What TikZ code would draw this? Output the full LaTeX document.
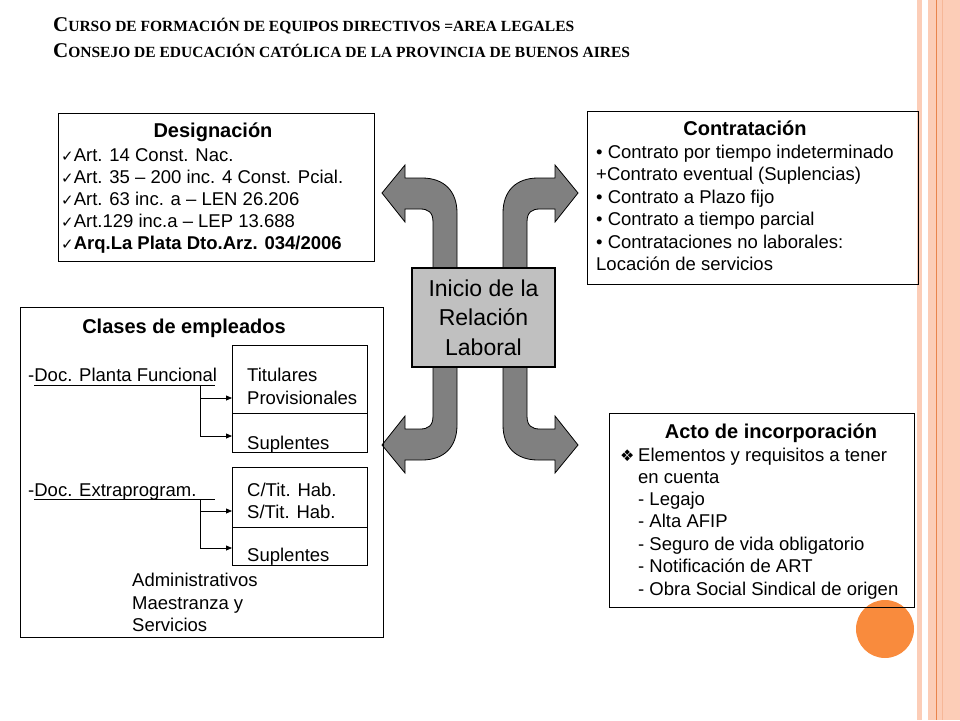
\documentclass[tikz,border=0pt]{standalone}
\usepackage{fontspec}
\setmainfont{Liberation Sans}
\newfontfamily\titlefont{Liberation Serif}
\newfontfamily\symfont{DejaVu Sans}
\usetikzlibrary{arrows.meta, positioning}
\definecolor{arrowgray}{HTML}{808080}
\definecolor{boxgray}{HTML}{C0C0C0}
\definecolor{peach}{HTML}{FCCDB7}
\definecolor{rustline}{HTML}{E9844C}
\definecolor{dotorange}{HTML}{F98B3D}
\newcommand{\chk}{{\symfont\fontsize{15}{15}\selectfont\char"2713}}
\newcommand{\diam}{{\symfont\fontsize{16}{16}\selectfont\char"2756}}
\newcommand{\titlecap}[1]{{\fontsize{21}{21}\selectfont #1}}

\begin{document}
\begin{tikzpicture}[x=1pt, y=-1pt,
    frame/.style={draw, line width=1pt, inner sep=0pt, anchor=north west},
    body/.style={font=\fontsize{18.5}{22}\selectfont, inner sep=0pt, anchor=base west},
    head/.style={font=\bfseries\fontsize{20}{24}\selectfont, inner sep=0pt, anchor=base},
    titletxt/.style={font=\titlefont\bfseries\fontsize{15.5}{15.5}\selectfont, inner sep=0pt, anchor=base west},
    tip/.style={-{Triangle[length=6pt, width=5pt]}, line width=0.8pt},
    bentarrow/.pic={
        \filldraw[fill=arrowgray, draw=black, line width=0.8pt]
        (-98,-126) -- (-75,-154) -- (-75,-141) -- (-58,-141)
        .. controls (-36,-141) and (-23,-128) .. (-23,-106) -- (-23,-45)
        -- (-47,-45) -- (-47,-97)
        .. controls (-47,-107) and (-52,-110) .. (-60,-110)
        -- (-75,-110) -- (-75,-97) -- cycle;
    }
]
\useasboundingbox (0,0) rectangle (960,720);

% slide border and dot
\fill[peach] (917,0) rectangle (922,720);
\fill[peach] (928,0) rectangle (960,720);
\draw[rustline, line width=1pt] (936,0) -- (936,720);
\draw[peach!70!rustline, line width=0.6pt] (942,0) -- (942,720);
\fill[dotorange] (885,629) circle (29);

% title
\node[titletxt] (title1) at (53,31) {\titlecap{C}URSO DE FORMACIÓN DE EQUIPOS DIRECTIVOS =AREA LEGALES};
\node[titletxt] (title2) at (53,57) {\titlecap{C}ONSEJO DE EDUCACIÓN CATÓLICA DE LA PROVINCIA DE BUENOS AIRES};

% the four bent arrows
\coordinate (hub) at (480,319);
\pic at (hub) {bentarrow};
\pic[xscale=-1] at (hub) {bentarrow};
\pic[yscale=-1] at (hub) {bentarrow};
\pic[xscale=-1, yscale=-1] at (hub) {bentarrow};

\node[draw, line width=1.8pt, fill=boxgray, minimum width=143, minimum height=99,
      align=center, font=\fontsize{23}{29.5}\selectfont] (inicio) at (483.5,317.5)
      {Inicio de la\\Relación\\Laboral};

% Designacion
\node[frame, minimum width=316, minimum height=148] (desig) at (58,113) {};
\node[head] (desigh) at (213,137) {Designación};
\node[body] (desig1) at (61,161) {\chk Art. 14 Const. Nac.};
\node[body] (desig2) at (61,183) {\chk Art. 35 – 200 inc. 4 Const. Pcial.};
\node[body] (desig3) at (61,205) {\chk Art. 63 inc. a – LEN 26.206};
\node[body] (desig4) at (61,227) {\chk Art.129 inc.a – LEP 13.688};
\node[body, font=\bfseries\fontsize{18.5}{22}\selectfont] (desig5) at (61,249) {\chk Arq.La Plata Dto.Arz. 034/2006};

% Contratacion
\node[frame, minimum width=331, minimum height=173] (contr) at (587,111) {};
\node[head] (contrh) at (745,135) {Contratación};
\node[body] (contr1) at (596,158) {• Contrato por tiempo indeterminado};
\node[body] (contr2) at (596,180) {+Contrato eventual (Suplencias)};
\node[body] (contr3) at (596,203) {• Contrato a Plazo fijo};
\node[body] (contr4) at (596,225) {• Contrato a tiempo parcial};
\node[body] (contr5) at (596,248) {• Contrataciones no laborales:};
\node[body] (contr6) at (596,270) {Locación de servicios};

% Acto de incorporacion
\node[frame, minimum width=305, minimum height=194] (acto) at (609,413) {};
\node[head] (actoh) at (771,438) {Acto de incorporación};
\node[body] (actos) at (620,461) {\diam};
\node[body] (acto1) at (638,461) {Elementos y requisitos a tener};
\node[body] (acto2) at (638,483) {en cuenta};
\node[body] (acto3) at (638,505) {- Legajo};
\node[body] (acto4) at (638,527) {- Alta AFIP};
\node[body] (acto5) at (638,550) {- Seguro de vida obligatorio};
\node[body] (acto6) at (638,572) {- Notificación de ART};
\node[body] (acto7) at (638,595) {- Obra Social Sindical de origen};

% Clases de empleados
\node[frame, minimum width=363, minimum height=330] (clases) at (20,307) {};
\node[head] (clasesh) at (184,333) {Clases de empleados};
\node[body] (planta) at (28,381) {-Doc. Planta Funcional};
\draw[line width=0.8pt] (34,385) -- (215,385);
\node[frame, minimum width=135, minimum height=107] (grupo1) at (232,345) {};
\draw[line width=1pt] (232,413) -- (367,413);
\node[body] (tit) at (247,381) {Titulares};
\node[body] (prov) at (247,404) {Provisionales};
\node[body] (supl1) at (247,449) {Suplentes};
\coordinate (join1) at (200,385);
\coordinate (in1a) at (232,398);
\coordinate (in1b) at (232,436);
\draw[tip] (join1) |- (in1a);
\draw[tip] (join1) |- (in1b);

\node[body] (extra) at (28,496) {-Doc. Extraprogram.};
\draw[line width=0.8pt] (34,499) -- (215,499);
\node[frame, minimum width=135, minimum height=98] (grupo2) at (232,467) {};
\draw[line width=1pt] (232,527) -- (367,527);
\node[body] (ctit) at (247,496) {C/Tit. Hab.};
\node[body] (stit) at (247,518) {S/Tit. Hab.};
\node[body] (supl2) at (247,561) {Suplentes};
\coordinate (join2) at (200,499);
\coordinate (in2a) at (232,511);
\coordinate (in2b) at (232,548);
\draw[tip] (join2) |- (in2a);
\draw[tip] (join2) |- (in2b);

\node[body] (admin) at (132,586) {Administrativos};
\node[body] (maes) at (132,609) {Maestranza y};
\node[body] (serv) at (132,631) {Servicios};
\end{tikzpicture}
\end{document}
